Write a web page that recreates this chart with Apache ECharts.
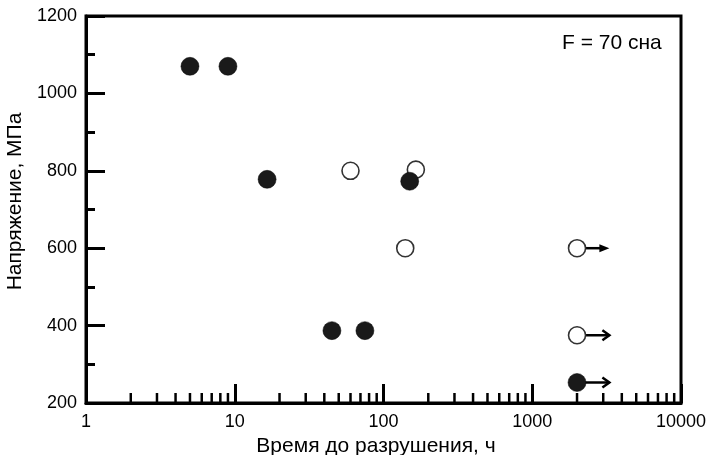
<!DOCTYPE html>
<html>
<head>
<meta charset="utf-8">
<script src="https://cdn.jsdelivr.net/npm/echarts@6/dist/echarts.min.js"></script>
<style>
html,body{margin:0;padding:0;background:#fff;}
#chart{width:706px;height:455px;}
</style>
</head>
<body>
<div id="chart"></div>
<script>
// ---- data ----
const xTitle = 'Время до разрушения, ч';
const yTitle = 'Напряжение, МПа';
const annotation = 'F = 70 сна';

// filled circles
const filledHours = [5, 9, 16.5, 150, 45, 75, 2000];
const filledStress = [1070, 1070, 778, 773, 387, 387, 253];
// open circles
const openHours = [60, 165, 140, 2000, 2000];
const openStress = [800, 803, 600, 600, 375];
// run-out arrows
const runoutHours = [2000, 2000, 2000];
const runoutStress = [600, 375, 253];
const runoutEndHours = [3300, 3300, 3300];
const runoutHeadFilled = [true, false, false];

// axes
const xMin = 1, xMax = 10000;
const yMin = 200, yMax = 1200, yInterval = 200;
const xMinorTicks = [2,3,4,5,6,7,8,9,20,30,40,50,60,70,80,90,200,300,400,500,600,700,800,900,2000,3000,4000,5000,6000,7000,8000,9000];

const FONT = '"Liberation Sans", Arial, sans-serif';

const chart = echarts.init(document.getElementById('chart'));

const filledData = filledHours.map((h, i) => [h, filledStress[i]]);
const openData = openHours.map((h, i) => [h, openStress[i]]);
const arrowData = runoutHours.map((h, i) => [h, runoutStress[i], runoutEndHours[i], runoutHeadFilled[i] ? 1 : 0]);
const minorTickData = xMinorTicks.map(h => [h, yMin]);

chart.setOption({
  animation: false,
  backgroundColor: '#fff',
  grid: {
    left: 86, right: 25, top: 16, bottom: 52,
    containLabel: false, outerBoundsMode: 'none',
    show: true, borderWidth: 3, borderColor: '#000', backgroundColor: 'transparent'
  },
  xAxis: {
    type: 'log', logBase: 10, min: xMin, max: xMax,
    name: xTitle, nameLocation: 'middle', nameGap: 30,
    nameTextStyle: { fontFamily: FONT, fontSize: 21, color: '#000', padding: [0, 15, 0, 0] },
    axisLine: { show: true, lineStyle: { color: '#000', width: 3 } },
    axisTick: { show: true, inside: true, length: 19, lineStyle: { color: '#000', width: 3 } },
    axisLabel: { fontFamily: FONT, fontSize: 18, color: '#000', margin: 10,
      formatter: v => String(Math.round(v)) },
    splitLine: { show: false }
  },
  yAxis: {
    type: 'value', min: yMin, max: yMax, interval: yInterval,
    name: yTitle, nameLocation: 'middle', nameGap: 50,
    nameTextStyle: { fontFamily: FONT, fontSize: 21, color: '#000', padding: [0, 0, 0, 16] },
    axisLine: { show: true, lineStyle: { color: '#000', width: 3 } },
    axisTick: { show: true, inside: true, length: 19, lineStyle: { color: '#000', width: 3 } },
    minorTick: { show: true, splitNumber: 2, length: 9, lineStyle: { color: '#000', width: 3 } },
    axisLabel: { fontFamily: FONT, fontSize: 18, color: '#000', margin: 9,
      formatter: v => String(Math.round(v)) },
    splitLine: { show: false }
  },
  graphic: [{
    type: 'text', left: 562, top: 33,
    style: { text: annotation, fontFamily: FONT, fontSize: 21, fill: '#000' }
  }],
  series: [
    {
      type: 'custom', name: 'minorTicks', clip: false, z: 1, silent: true,
      data: minorTickData,
      renderItem: (params, api) => {
        const p = api.coord([api.value(0), api.value(1)]);
        return { type: 'line', shape: { x1: p[0], y1: p[1], x2: p[0], y2: p[1] - 10 },
          style: { stroke: '#000', lineWidth: 2.5 } };
      }
    },
    {
      type: 'custom', name: 'runout', clip: false, z: 2, silent: true,
      data: arrowData,
      renderItem: (params, api) => {
        const p0 = api.coord([api.value(0), api.value(1)]);
        const p1 = api.coord([api.value(2), api.value(1)]);
        const filled = api.value(3) === 1;
        const children = [];
        if (filled) {
          children.push({ type: 'line', shape: { x1: p0[0], y1: p0[1], x2: p1[0] - 8, y2: p1[1] },
            style: { stroke: '#000', lineWidth: 2.5 } });
          children.push({ type: 'polygon', shape: { points: [[p1[0] - 10, p1[1] - 4], [p1[0], p1[1]], [p1[0] - 10, p1[1] + 4]] },
            style: { fill: '#000' } });
        } else {
          children.push({ type: 'line', shape: { x1: p0[0], y1: p0[1], x2: p1[0], y2: p1[1] },
            style: { stroke: '#000', lineWidth: 2.5 } });
          children.push({ type: 'polyline', shape: { points: [[p1[0] - 7, p1[1] - 5], [p1[0], p1[1]], [p1[0] - 7, p1[1] + 5]] },
            style: { stroke: '#000', lineWidth: 2.5, fill: null } });
        }
        return { type: 'group', children };
      }
    },
    {
      type: 'scatter', name: 'open', z: 3, symbol: 'circle', symbolSize: 17,
      data: openData,
      itemStyle: { color: '#fff', borderColor: '#333', borderWidth: 1.6, opacity: 1 }
    },
    {
      type: 'scatter', name: 'filled', z: 4, symbol: 'circle', symbolSize: 18,
      data: filledData,
      itemStyle: { color: '#1a1a1a', borderColor: '#000', borderWidth: 0.5, opacity: 1 }
    }
  ]
});
</script>
</body>
</html>
